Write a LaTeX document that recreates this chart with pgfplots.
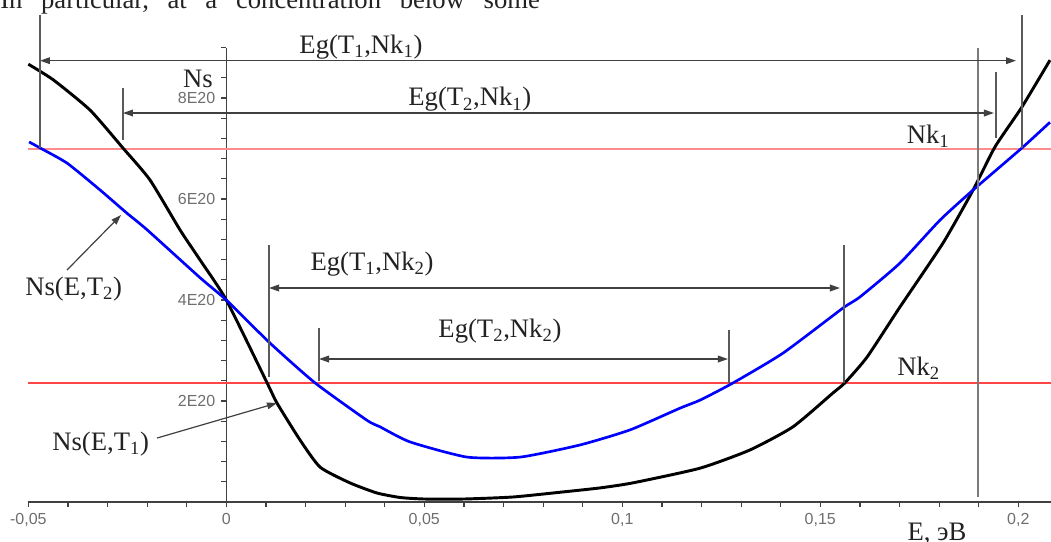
\documentclass[border=0pt]{standalone}
\usepackage{fontspec}
\setmainfont{Liberation Serif}
\newfontfamily\tickfont{Liberation Sans}
\usepackage{pgfplots}
\pgfplotsset{compat=1.18}
\usetikzlibrary{arrows.meta}

\definecolor{nkone}{RGB}{255,140,140}
\definecolor{nkred}{RGB}{255,70,70}
\definecolor{vline}{HTML}{5A5A5A}
\definecolor{txt}{HTML}{222222}
\definecolor{tickc}{HTML}{6E6E6E}
\definecolor{axc}{HTML}{404040}

\begin{document}
\begin{tikzpicture}
\begin{axis}[
  scale only axis, width=767.0pt, height=340.9pt,
  xmin=-0.05, xmax=0.20826, ymin=0, ymax=9,
  axis x line*=bottom, axis y line*=middle,
  axis line style={axc, line width=1.1pt},
  clip=false,
  tick align=outside,
  major tick length=3.75pt, minor tick length=3.75pt,
  every tick/.style={axc, line width=0.9pt},
  xtick={-0.05,0,0.05,0.1,0.15,0.2},
  xticklabels={{-0,05},{0},{0,05},{0,1},{0,15},{0,2}},
  minor xtick={-0.04,-0.03,-0.02,-0.01,0.01,0.02,0.03,0.04,0.06,0.07,0.08,0.09,0.11,0.12,0.13,0.14,0.16,0.17,0.18,0.19},
  ytick={2,4,6,8},
  yticklabels={{2E20},{4E20},{6E20},{8E20}},
  minor ytick={0.4,0.8,1.2,1.6,2.4,2.8,3.2,3.6,4.4,4.8,5.2,5.6,6.4,6.8,7.2,7.6,8.4,9},
  hide obscured x ticks=false, hide obscured y ticks=false,
  ticklabel style={font=\tickfont\fontsize{12pt}{13pt}\selectfont, text=tickc},
  xticklabel style={yshift=-1pt},
  yticklabel style={xshift=-1pt},
]
% Nk levels
\addplot[draw=nkone, line width=1.5pt] coordinates {(-0.05,7.0) (0.20826,7.0)};
\addplot[draw=nkred, line width=1.4pt] coordinates {(-0.05,2.35) (0.20826,2.35)};
% curves
\addplot[black, line width=2.2pt, line join=round, smooth, tension=0.35] coordinates {
(-0.0500,8.67) (-0.0437,8.36) (-0.0344,7.76) (-0.0261,7.01) (-0.0193,6.38)
(-0.0117,5.39) (-0.0066,4.79) (0.0000,4.00) (0.0103,2.36) (0.0128,1.96)
(0.0186,1.23) (0.0237,0.69) (0.0312,0.38) (0.0380,0.18) (0.0439,0.09)
(0.0500,0.06) (0.0600,0.06) (0.0724,0.10) (0.0850,0.20) (0.0944,0.28)
(0.1027,0.38) (0.1196,0.67) (0.1322,1.03) (0.1431,1.49) (0.1532,2.16)
(0.1562,2.36) (0.1618,2.87) (0.1701,3.86) (0.1810,5.13) (0.1886,6.18)
(0.1941,7.03) (0.2009,7.82) (0.2080,8.75)};
\addplot[color=blue, line width=2.0pt, line join=round, smooth, tension=0.35] coordinates {
(-0.0498,7.13) (-0.0470,7.01) (-0.0402,6.71) (-0.0319,6.18) (-0.0251,5.72)
(-0.0200,5.39) (-0.0066,4.44) (0.0000,4.00) (0.0110,3.15) (0.0224,2.36)
(0.0355,1.62) (0.0388,1.49) (0.0464,1.19) (0.0608,0.89) (0.0742,0.89)
(0.0893,1.13) (0.1020,1.43) (0.1146,1.86) (0.1197,2.02) (0.1280,2.36)
(0.1406,2.95) (0.1557,3.84) (0.1600,4.06) (0.1701,4.73) (0.1802,5.58)
(0.1886,6.18) (0.2009,7.01) (0.2080,7.52)};
% vertical markers
\addplot[color=vline, line width=1.2pt] coordinates {(-0.04705,9.644) (-0.04705,7.010)};
\addplot[color=vline, line width=1.2pt] coordinates {(-0.02609,8.198) (-0.02609,7.168)};
\addplot[color=vline!80, line width=1.3pt] coordinates {(0.18982,8.990) (0.18982,0.099)};
\addplot[color=vline, line width=1.2pt] coordinates {(0.19437,8.515) (0.19437,7.208)};
\addplot[color=vline, line width=1.2pt] coordinates {(0.20093,9.644) (0.20093,7.010)};
\addplot[color=vline, line width=1.2pt] coordinates {(0.01078,5.089) (0.01078,2.475)};
\addplot[color=vline, line width=1.2pt] coordinates {(0.02341,3.446) (0.02341,2.396)};
\addplot[color=vline, line width=1.2pt] coordinates {(0.12694,3.406) (0.12694,2.356)};
\addplot[color=vline, line width=1.2pt] coordinates {(0.15598,5.089) (0.15598,2.356)};
% gap arrows
\draw[{Triangle[length=7.5pt,width=5pt]}-{Triangle[length=7.5pt,width=5pt]}, axc, line width=1pt]
  (axis cs:-0.04705,8.739) -- (axis cs:0.19942,8.739);
\draw[{Triangle[length=7.5pt,width=5pt]}-{Triangle[length=7.5pt,width=5pt]}, axc, line width=1pt]
  (axis cs:-0.02609,7.703) -- (axis cs:0.19386,7.703);
\draw[{Triangle[length=7.5pt,width=5pt]}-{Triangle[length=7.5pt,width=5pt]}, axc, line width=1pt]
  (axis cs:0.01078,4.238) -- (axis cs:0.15497,4.238);
\draw[{Triangle[length=7.5pt,width=5pt]}-{Triangle[length=7.5pt,width=5pt]}, axc, line width=1pt]
  (axis cs:0.02341,2.832) -- (axis cs:0.12669,2.832);
% pointer arrows
\draw[-{Triangle[length=7.5pt,width=5pt]}, axc, line width=0.9pt]
  (axis cs:-0.04023,4.594) -- (axis cs:-0.02659,5.683);
\draw[-{Triangle[length=7.5pt,width=5pt]}, axc, line width=0.9pt]
  (axis cs:-0.01750,1.267) -- (axis cs:0.0128,1.960);
% labels
\begin{scope}[every node/.style={text=txt, font=\fontsize{20pt}{22pt}\selectfont, inner sep=0pt}]
\node[anchor=base west] at (axis cs:-0.05715,9.782) {\spaceskip=14pt In particular, at a concentration below some};
\node[anchor=base] at (axis cs:0.0340,8.891) {Eg(T\textsubscript{1},Nk\textsubscript{1})};
\node[anchor=base] at (axis cs:0.0615,7.842) {Eg(T\textsubscript{2},Nk\textsubscript{1})};
\node[anchor=base] at (axis cs:0.0368,4.594) {Eg(T\textsubscript{1},Nk\textsubscript{2})};
\node[anchor=base] at (axis cs:0.0691,3.267) {Eg(T\textsubscript{2},Nk\textsubscript{2})};
\node[anchor=base west] at (axis cs:0.1718,7.109) {Nk\textsubscript{1}};
\node[anchor=base west] at (axis cs:0.1694,2.515) {Nk\textsubscript{2}};
\node[anchor=base west] at (axis cs:-0.05083,4.099) {Ns(E,T\textsubscript{2})};
\node[anchor=base west] at (axis cs:-0.04401,1.030) {Ns(E,T\textsubscript{1})};
\node[anchor=base east] at (axis cs:-0.00336,8.218) {Ns};
\node[anchor=base] at (axis cs:0.17947,-0.752) {E, эВ};
\end{scope}
\coordinate (bbl) at (axis cs:-0.05715,-0.7723);
\coordinate (btr) at (axis cs:0.20826,9.9406);
\end{axis}
\pgfresetboundingbox
\path[use as bounding box] (bbl) rectangle (btr);
\end{tikzpicture}
\end{document}
